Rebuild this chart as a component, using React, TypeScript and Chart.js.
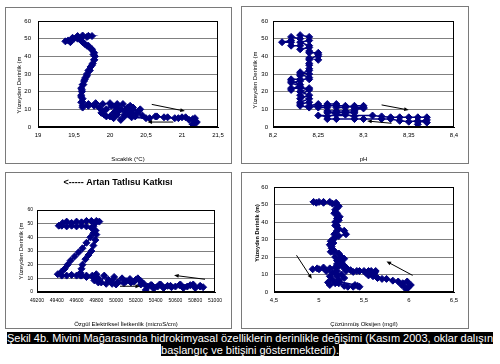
import React, { useEffect, useRef } from 'react';
import { Chart, registerables } from 'chart.js';

Chart.register(...registerables);

const FONT = "'Liberation Sans', Arial, Helvetica, sans-serif";
const NAVY = '#000080';

const depthTicks = [0, 10, 20, 30, 40, 50, 60];

// Panel 1: temperature
const tempTicks = [19, 19.5, 20, 20.5, 21, 21.5];
const tempValues = [21.15, 21.2, 21.18, 21.1, 21.0, 20.9, 20.75, 20.63, 20.55, 20.45, 20.38, 20.42, 20.3, 20.25, 20.2, 20.15, 20.1, 20.05, 20.0, 19.92, 19.88, 19.95, 20.02, 20.1, 20.0, 19.9, 19.8, 19.7, 19.62, 19.6, 19.62, 19.6, 19.61, 19.6, 19.62, 19.64, 19.66, 19.68, 19.7, 19.73, 19.76, 19.78, 19.79, 19.78, 19.75, 19.7, 19.65, 19.6, 19.55, 19.48, 19.42, 19.38, 19.45, 19.5, 19.55, 19.62, 19.7, 19.75, 19.68, 19.6, 19.62, 19.68, 19.74, 19.77, 19.78, 19.75, 19.72, 19.68, 19.65, 19.63, 19.61, 19.6, 19.62, 19.62, 19.7, 19.78, 19.85, 19.9, 19.95, 20.05, 20.1, 20.15, 20.2, 20.22, 20.28, 20.3, 20.35, 20.4, 20.32, 20.12, 20.08, 20.18, 20.22, 20.26, 20.3, 20.5, 20.65, 20.8, 20.95, 21.05, 21.15, 21.2, 21.15];
const tempDepths = [1.5, 3, 5, 4, 5.5, 5, 5.5, 6, 5, 6.5, 8, 10, 9, 11, 7, 10, 12, 8, 6, 7, 8, 10, 12, 13, 13.5, 13, 13.5, 13, 12, 14, 16, 18, 20, 22, 24, 26, 28, 30, 32, 34, 36, 38, 40, 42, 44, 46, 47, 49, 50, 50.5, 49, 48.5, 48, 50, 51.5, 51.8, 51.6, 51.5, 51, 50.5, 48, 46, 44, 41, 38, 35, 32, 29, 27, 24, 21, 17, 14, 11, 12, 12, 11, 9, 6, 5, 7, 4, 6, 9, 12, 8, 6, 9, 11, 9, 11, 13, 10, 7, 5.5, 5, 6, 5.5, 5, 5.5, 4.5, 2.5, 1.5];
const tempArrows = [
  { from: [20.58, 12.8], to: [21.04, 9] },
  { from: [20.88, 2.8], to: [20.52, 2.8] },
];

// Panel 2: pH
const phTicks = [8.2, 8.25, 8.3, 8.35, 8.4];
const phValues = [8.36, 8.36, 8.37, 8.37, 8.36, 8.35, 8.34, 8.33, 8.32, 8.31, 8.25, 8.26, 8.26, 8.27, 8.28, 8.29, 8.29, 8.30, 8.30, 8.29, 8.28, 8.27, 8.27, 8.26, 8.26, 8.25, 8.25, 8.24, 8.24, 8.23, 8.23, 8.24, 8.23, 8.24, 8.23, 8.22, 8.22, 8.23, 8.22, 8.22, 8.23, 8.23, 8.23, 8.24, 8.24, 8.24, 8.24, 8.24, 8.25, 8.25, 8.25, 8.24, 8.24, 8.23, 8.23, 8.22, 8.22, 8.21, 8.22, 8.22, 8.23, 8.23, 8.24, 8.24, 8.23, 8.24, 8.24, 8.25, 8.24, 8.24, 8.24, 8.23, 8.24, 8.23, 8.22, 8.23, 8.24, 8.23, 8.24, 8.23, 8.23, 8.24, 8.25, 8.26, 8.27, 8.28, 8.29, 8.30, 8.29, 8.28, 8.27, 8.26, 8.27, 8.28, 8.29, 8.29, 8.27, 8.26, 8.30, 8.32, 8.33, 8.34, 8.35, 8.36, 8.37];
const phDepths = [1.5, 3, 4, 5.5, 5.5, 5.5, 5.5, 5.5, 6, 6.5, 6.5, 6, 8, 8, 8, 8, 10, 10.5, 12, 12, 11, 11, 13, 13, 11, 11, 13, 12, 14, 13, 16, 18, 20, 22, 22, 22, 21, 24, 26, 27, 27, 29, 31, 30, 27, 33, 36, 39, 38, 40, 42, 42, 45, 44, 46, 46, 48, 48, 49, 51, 50, 52, 51, 49, 48, 46, 43, 41, 38, 35, 32, 30, 28, 26, 25, 23, 21, 18, 16, 14, 12, 11, 12, 12, 12, 12, 11, 11, 9, 9, 9, 9, 7, 7, 6, 4.5, 4.5, 4.5, 4.5, 4.5, 4.5, 3.5, 3, 3.5, 2.5];
const phArrows = [
  { from: [8.32, 12.5], to: [8.35, 9.6] },
  { from: [8.331, 2.1], to: [8.304, 3.4] },
];

// Panel 3: electrical conductivity
const ecTicks = [49200, 49400, 49600, 49800, 50000, 50200, 50400, 50600, 50800, 51000];
const ecValues = [50880, 50850, 50800, 50780, 50720, 50680, 50640, 50600, 50560, 50520, 50480, 50440, 50420, 50380, 50360, 50320, 50300, 50280, 50250, 50220, 50180, 50140, 50100, 50060, 50020, 49980, 49960, 49920, 49880, 49850, 49820, 49800, 49780, 49760, 49700, 49650, 49600, 49550, 49500, 49450, 49410, 49450, 49480, 49510, 49540, 49580, 49620, 49660, 49700, 49740, 49770, 49790, 49750, 49700, 49650, 49600, 49550, 49500, 49450, 49420, 49460, 49500, 49550, 49600, 49650, 49700, 49750, 49800, 49830, 49790, 49770, 49790, 49800, 49790, 49770, 49750, 49720, 49690, 49660, 49650, 49640, 49640, 49700, 49780, 49820, 49900, 49960, 50000, 50080, 50150, 50200, 50250, 50350, 50450, 50550, 50650, 50750, 50850];
const ecDepths = [3.5, 4.5, 3, 5.5, 4, 3, 5, 4, 3.5, 4.5, 3, 5.5, 4, 2.5, 5, 4, 1.5, 6, 8, 10, 7.5, 9.5, 8, 10, 7, 11, 6, 9, 12, 7, 10, 13, 8.5, 12, 12, 12, 12, 12.5, 12, 12, 13, 15, 17, 20, 23, 26, 29, 32, 36, 40, 43, 45, 47, 48, 48.5, 48, 48.5, 48, 48.5, 48.5, 50.5, 51.5, 50.5, 51.5, 51, 52, 52, 52, 51.5, 50.5, 48, 45, 42, 38, 34, 30, 27, 24, 20, 17, 14, 12, 11, 10, 7, 6, 8, 5.5, 6.5, 7, 9, 5.5, 5, 5.5, 4.5, 5.5, 5, 4];
const ecArrows = [
  { from: [50899, 9.3], to: [50586, 12.2] },
  { from: [50039, 4.2], to: [50242, 4.2] },
];

// Panel 4: dissolved oxygen
const doTicks = [4.5, 5, 5.5, 6, 6.5];
const doValues = [5.97, 5.95, 5.93, 5.98, 6.02, 5.99, 5.92, 5.88, 5.82, 5.75, 5.7, 5.65, 5.6, 5.55, 5.52, 5.58, 5.63, 5.6, 5.5, 5.42, 5.35, 5.3, 5.27, 5.25, 5.28, 5.25, 5.22, 5.2, 5.18, 5.12, 5.05, 4.98, 4.93, 5.0, 5.08, 5.15, 5.2, 5.22, 5.18, 5.12, 5.1, 5.15, 5.12, 5.18, 5.25, 5.28, 5.22, 5.28, 5.32, 5.38, 5.43, 5.45, 5.4, 5.22, 5.2, 5.22, 5.24, 5.22, 5.17, 5.14, 5.16, 5.13, 5.18, 5.22, 5.3, 5.28, 5.22, 5.2, 5.18, 5.22, 5.23, 5.2, 5.18, 5.22, 5.19, 5.12, 5.05, 5.0, 4.94, 4.97, 5.05, 5.15, 5.2, 5.17, 5.2, 5.18, 5.2, 5.17, 5.15, 5.12, 5.14, 5.13, 5.18, 5.2, 5.25, 5.27, 5.3, 5.38, 5.45, 5.55, 5.62];
const doDepths = [1.5, 3, 5, 6, 4, 2.5, 4, 6, 6.5, 7.5, 7.5, 8, 9, 9.5, 11, 12, 12, 10.5, 12, 12, 12.5, 14, 15.5, 17, 19, 20, 18, 16, 14, 13.5, 14, 13.5, 13, 13, 12, 11, 9, 7, 5, 4, 5.5, 7, 9, 11, 10, 8, 5, 3.5, 3, 3, 3.5, 3, 4, 6, 12, 15, 19, 22, 23.5, 26, 28, 29, 31, 32, 33, 35, 36, 38, 40, 41, 43, 45, 47, 49, 51, 51.5, 51.5, 51.5, 51.5, 51, 51, 50.5, 48, 45, 42, 38, 35, 33, 30, 27, 25, 23, 20, 18, 16, 14, 12, 11.5, 12, 12, 11];
const doArrows = [
  { from: [4.75, 21], to: [4.92, 7.6] },
  { from: [6.04, 9.5], to: [5.75, 17.5] },
];

type Arrow = { from: number[]; to: number[] };
type TextItem = { text: string; x: number; y: number; size: number; bold?: boolean; rotate?: boolean };
type PanelSpec = {
  left: number; top: number; w: number; h: number;
  xs: number[]; ys: number[]; xTicks: number[]; xTitle: string; arrows: Arrow[];
  padTop: number; padRight: number; yAxisW: number; xAxisH: number;
  yTickPad: number; xTickPad: number; xTitlePad: number; tickSize: number; titleSize: number;
  texts: TextItem[];
};

const fmt = (v: number) => String(v).replace('.', ',');

function makeChart(canvas: HTMLCanvasElement, p: PanelSpec) {
  const frame = {
    id: 'frame',
    afterDatasetsDraw(chart: any) {
      const { ctx, chartArea: a } = chart;
      ctx.save();
      ctx.strokeStyle = '#000';
      ctx.lineWidth = 1;
      ctx.strokeRect(Math.round(a.left) + 0.5, Math.round(a.top) + 0.5, Math.round(a.right - a.left) - 1, Math.round(a.bottom - a.top) - 1);
      ctx.restore();
    },
  };
  const arrows = {
    id: 'arrows',
    afterDatasetsDraw(chart: any) {
      const { ctx, scales } = chart;
      ctx.save();
      ctx.strokeStyle = '#000';
      ctx.fillStyle = '#000';
      ctx.lineWidth = 1;
      p.arrows.forEach((ar) => {
        const x1 = scales.x.getPixelForValue(ar.from[0]);
        const y1 = scales.y.getPixelForValue(ar.from[1]);
        const x2 = scales.x.getPixelForValue(ar.to[0]);
        const y2 = scales.y.getPixelForValue(ar.to[1]);
        const ang = Math.atan2(y2 - y1, x2 - x1);
        const len = 5;
        ctx.beginPath();
        ctx.moveTo(x1, y1);
        ctx.lineTo(x2 - Math.cos(ang) * 3, y2 - Math.sin(ang) * 3);
        ctx.stroke();
        ctx.beginPath();
        ctx.moveTo(x2, y2);
        ctx.lineTo(x2 - len * Math.cos(ang - 0.4), y2 - len * Math.sin(ang - 0.4));
        ctx.lineTo(x2 - len * Math.cos(ang + 0.4), y2 - len * Math.sin(ang + 0.4));
        ctx.closePath();
        ctx.fill();
      });
      ctx.restore();
    },
  };
  const texts = {
    id: 'texts',
    afterDraw(chart: any) {
      const { ctx } = chart;
      p.texts.forEach((t) => {
        ctx.save();
        ctx.translate(t.x, t.y);
        if (t.rotate) ctx.rotate(-Math.PI / 2);
        ctx.textAlign = 'center';
        ctx.textBaseline = 'middle';
        ctx.fillStyle = '#000';
        ctx.font = `${t.bold ? 'bold ' : ''}${t.size}px ${FONT}`;
        ctx.fillText(t.text, 0, 0);
        ctx.restore();
      });
    },
  };
  const tickFont = { size: p.tickSize, family: FONT };
  return new Chart(canvas, {
    type: 'scatter',
    data: {
      datasets: [
        {
          data: p.xs.map((x, i) => ({ x, y: p.ys[i] })),
          showLine: true,
          borderColor: NAVY,
          borderWidth: 1.5,
          backgroundColor: NAVY,
          pointStyle: 'rectRot',
          pointRadius: 3.5,
          pointBackgroundColor: NAVY,
          pointBorderColor: NAVY,
          pointBorderWidth: 1,
        },
      ],
    },
    options: {
      responsive: false,
      animation: false,
      devicePixelRatio: 1,
      events: [],
      layout: { padding: { top: p.padTop, right: p.padRight, bottom: 0, left: 0 } },
      plugins: { legend: { display: false }, tooltip: { enabled: false }, title: { display: false } },
      scales: {
        x: {
          type: 'linear',
          min: p.xTicks[0],
          max: p.xTicks[p.xTicks.length - 1],
          afterBuildTicks: (s: any) => { s.ticks = p.xTicks.map((v) => ({ value: v })); },
          afterFit: (s: any) => { s.height = p.xAxisH; },
          grid: { display: false, drawTicks: false },
          border: { display: true, color: '#000' },
          ticks: { font: tickFont, color: '#000', padding: p.xTickPad, maxRotation: 0, autoSkip: false, callback: (v: any) => fmt(Number(v)) },
          title: { display: true, text: p.xTitle, color: '#000', font: { size: p.titleSize, family: FONT }, padding: { top: p.xTitlePad, bottom: 0 } },
        },
        y: {
          type: 'linear',
          min: 0,
          max: 60,
          afterBuildTicks: (s: any) => { s.ticks = depthTicks.map((v) => ({ value: v })); },
          afterFit: (s: any) => { s.width = p.yAxisW; },
          grid: { color: '#808080', lineWidth: 1, drawTicks: false },
          border: { display: true, color: '#000' },
          ticks: { font: tickFont, color: '#000', padding: p.yTickPad, callback: (v: any) => String(v) },
        },
      },
    } as any,
    plugins: [frame, arrows, texts],
  });
}

const YT = 'Yüzeyden Derinlik (m';

const panels: PanelSpec[] = [
  {
    left: 5, top: 7, w: 227, h: 157,
    xs: tempValues, ys: tempDepths, xTicks: tempTicks, xTitle: 'Sıcaklık (°C)', arrows: tempArrows,
    padTop: 13, padRight: 13, yAxisW: 32, xAxisH: 36,
    yTickPad: 7, xTickPad: 5, xTitlePad: 12, tickSize: 6, titleSize: 6,
    texts: [{ text: YT, x: 13, y: 77, size: 6, rotate: true }],
  },
  {
    left: 241, top: 6, w: 228, h: 158,
    xs: phValues, ys: phDepths, xTicks: phTicks, xTitle: 'pH', arrows: phArrows,
    padTop: 14, padRight: 14, yAxisW: 31, xAxisH: 36,
    yTickPad: 5, xTickPad: 5, xTitlePad: 10, tickSize: 6, titleSize: 6,
    texts: [{ text: YT, x: 13, y: 73, size: 6, rotate: true }],
  },
  {
    left: 5, top: 172, w: 227, h: 157,
    xs: ecValues, ys: ecDepths, xTicks: ecTicks, xTitle: 'Özgül Elektriksel İletkenlik (microS/cm)', arrows: ecArrows,
    padTop: 37, padRight: 16, yAxisW: 31, xAxisH: 36,
    yTickPad: 4, xTickPad: 6, xTitlePad: 10, tickSize: 5, titleSize: 6,
    texts: [
      { text: YT, x: 15, y: 78, size: 6, rotate: true },
      { text: '<----- Artan Tatlısu Katkısı', x: 112, y: 10, size: 9, bold: true },
    ],
  },
  {
    left: 241, top: 172, w: 228, h: 157,
    xs: doValues, ys: doDepths, xTicks: doTicks, xTitle: 'Çözünmüş Oksijen (mg/l)', arrows: doArrows,
    padTop: 14, padRight: 14, yAxisW: 32, xAxisH: 36,
    yTickPad: 6, xTickPad: 5, xTitlePad: 10, tickSize: 6, titleSize: 6,
    texts: [{ text: 'Yüzeyden Derinlik (m)', x: 15, y: 60, size: 5.5, bold: true, rotate: true }],
  },
];

function Panel({ spec }: { spec: PanelSpec }) {
  const ref = useRef<HTMLCanvasElement>(null);
  useEffect(() => {
    if (!ref.current) return;
    const chart = makeChart(ref.current, spec);
    return () => chart.destroy();
  }, [spec]);
  const cw = spec.w - 2;
  const ch = spec.h - 2;
  return (
    <div style={{ position: 'absolute', left: spec.left, top: spec.top, width: cw, height: ch, border: '1px solid #7a7a7a', background: '#fff' }}>
      <canvas ref={ref} width={cw} height={ch} style={{ display: 'block', width: cw, height: ch }} />
    </div>
  );
}

const captionLine1 = 'Şekil 4b. Mivini Mağarasında hidrokimyasal özelliklerin derinlikle değişimi (Kasım 2003, oklar dalışın';
const captionLine2 = 'başlangıç ve bitişini göstermektedir).';

export default function App() {
  Chart.defaults.font.family = FONT;
  return (
    <div style={{ position: 'fixed', left: 0, top: 0, width: 500, height: 364, background: '#fff', overflow: 'hidden' }}>
      {panels.map((p, i) => (
        <Panel key={i} spec={p} />
      ))}
      <div style={{ position: 'absolute', left: 0, top: 333, width: 500, textAlign: 'center', fontFamily: FONT, fontSize: 11, lineHeight: '11.5px', color: '#fff', whiteSpace: 'nowrap' }}>
        <span style={{ background: '#000' }}>{captionLine1}</span>
        <br />
        <span style={{ background: '#000' }}>{captionLine2}</span>
      </div>
    </div>
  );
}
